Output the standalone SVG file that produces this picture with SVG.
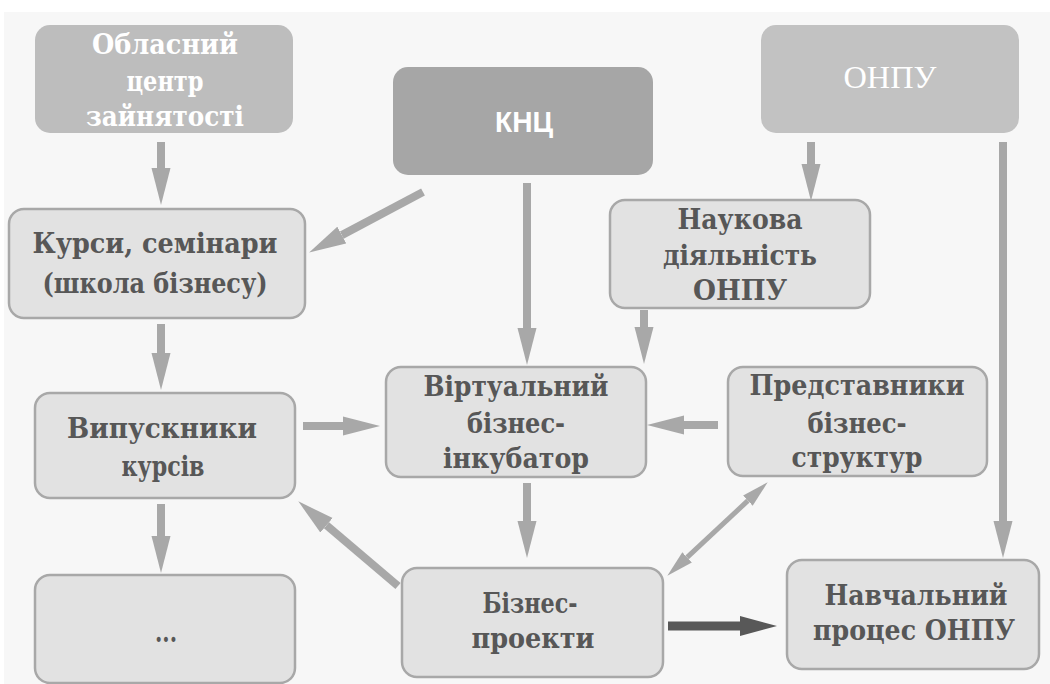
<svg xmlns="http://www.w3.org/2000/svg" width="1050" height="684" viewBox="0 0 1050 684">
<style>
.bg{fill:#f7f7f7}
.lb{fill:#e2e2e2;stroke:#a8a8a8;stroke-width:2.5}
.t{font-family:"DejaVu Serif","Liberation Serif",serif;font-weight:bold;font-size:27px;fill:#575757;text-anchor:middle}
.w{font-family:"DejaVu Serif","Liberation Serif",serif;font-weight:bold;font-size:27px;fill:#ffffff;text-anchor:middle}
.c{stroke:#a8a8a8;stroke-width:8;fill:none}
.cd{stroke:#585858;stroke-width:9;fill:none}
.cs{stroke:#a8a8a8;stroke-width:5;fill:none}
</style>
<defs>
<marker id="ah" markerUnits="userSpaceOnUse" markerWidth="38" markerHeight="20" refX="0" refY="10" orient="auto" viewBox="0 0 38 20">
<path d="M0,0.5 L37,10 L0,19.5 Z" fill="#a8a8a8"/>
</marker>
<marker id="ahd" markerUnits="userSpaceOnUse" markerWidth="38" markerHeight="22" refX="0" refY="11" orient="auto" viewBox="0 0 38 22">
<path d="M0,1 L37,11 L0,21 Z" fill="#585858"/>
</marker>
<marker id="ahs" markerUnits="userSpaceOnUse" markerWidth="28" markerHeight="16" refX="0" refY="8" orient="auto-start-reverse" viewBox="0 0 28 16">
<path d="M0,1 L27,8 L0,15 Z" fill="#a8a8a8"/>
</marker>
</defs>
<rect x="0" y="0" width="1050" height="684" fill="#ffffff"/>
<rect class="bg" x="4" y="12" width="1046" height="672"/>

<g id="connectors">
<line class="c" x1="161" y1="142" x2="161" y2="168" marker-end="url(#ah)"/>
<line class="c" x1="161" y1="324" x2="161" y2="353" marker-end="url(#ah)"/>
<line class="c" x1="161" y1="504" x2="161" y2="536" marker-end="url(#ah)"/>
<line class="c" x1="423" y1="192" x2="341.8" y2="235.1" marker-end="url(#ah)"/>
<line class="c" x1="527" y1="183" x2="527" y2="328" marker-end="url(#ah)"/>
<line class="c" x1="811" y1="142" x2="811" y2="164" marker-end="url(#ah)"/>
<line class="c" x1="1003" y1="142" x2="1003" y2="521" marker-end="url(#ah)"/>
<line class="c" x1="644" y1="310" x2="644" y2="327" marker-end="url(#ah)"/>
<line class="c" x1="303" y1="426" x2="343" y2="426" marker-end="url(#ah)"/>
<line class="c" x1="718" y1="425" x2="684" y2="425" marker-end="url(#ah)"/>
<line class="c" x1="527" y1="483" x2="527" y2="521" marker-end="url(#ah)"/>
<line class="c" x1="398" y1="586" x2="326.5" y2="525.3" marker-end="url(#ah)"/>
<line class="cs" x1="687.1" y1="557.3" x2="747.9" y2="500.7" marker-start="url(#ahs)" marker-end="url(#ahs)"/>
<line class="cd" x1="668" y1="626" x2="740" y2="626" marker-end="url(#ahd)"/>
</g>

<g id="n-oblasnyi">
<rect x="35" y="25" width="258" height="108" rx="15" fill="#bdbdbd"/>
<text class="w" x="165" y="54" textLength="146" lengthAdjust="spacingAndGlyphs">Обласний</text>
<text class="w" x="165" y="91" textLength="77" lengthAdjust="spacingAndGlyphs">центр</text>
<text class="w" x="165" y="126" textLength="158" lengthAdjust="spacingAndGlyphs">зайнятості</text>
</g>

<g id="n-knc">
<rect x="393" y="67" width="260" height="108" rx="15" fill="#a6a6a6"/>
<text x="524" y="132" font-family="'Liberation Sans',Arial,sans-serif" font-weight="bold" font-size="30" fill="#ffffff" text-anchor="middle" textLength="58" lengthAdjust="spacingAndGlyphs">КНЦ</text>
</g>

<g id="n-onpu">
<rect x="761" y="25" width="258" height="108" rx="15" fill="#c2c2c2"/>
<text x="890" y="88" font-family="'Liberation Serif','Times New Roman',serif" font-size="32" fill="#ffffff" text-anchor="middle" textLength="93" lengthAdjust="spacingAndGlyphs">ОНПУ</text>
</g>

<g id="n-kursy">
<rect class="lb" x="9" y="209" width="296" height="109" rx="15"/>
<text class="t" x="155" y="253" textLength="245" lengthAdjust="spacingAndGlyphs">Курси, семінари</text>
<text class="t" x="155" y="293" textLength="225" lengthAdjust="spacingAndGlyphs">(школа бізнесу)</text>
</g>

<g id="n-naukova">
<rect class="lb" x="610" y="200" width="260" height="108" rx="15"/>
<text class="t" x="740" y="229" textLength="125" lengthAdjust="spacingAndGlyphs">Наукова</text>
<text class="t" x="740" y="265" textLength="154" lengthAdjust="spacingAndGlyphs">діяльність</text>
<text class="t" x="740" y="300" textLength="94" lengthAdjust="spacingAndGlyphs">ОНПУ</text>
</g>

<g id="n-vypusknyky">
<rect class="lb" x="35" y="393" width="260" height="105" rx="15"/>
<text class="t" x="162" y="438" textLength="190" lengthAdjust="spacingAndGlyphs">Випускники</text>
<text class="t" x="163" y="476" textLength="83" lengthAdjust="spacingAndGlyphs">курсів</text>
</g>

<g id="n-virtualnyi">
<rect class="lb" x="386" y="367" width="260" height="110" rx="15"/>
<text class="t" x="516" y="396" textLength="185" lengthAdjust="spacingAndGlyphs">Віртуальний</text>
<text class="t" x="516" y="433" textLength="98" lengthAdjust="spacingAndGlyphs">бізнес-</text>
<text class="t" x="516" y="468" textLength="146" lengthAdjust="spacingAndGlyphs">інкубатор</text>
</g>

<g id="n-predstavnyky">
<rect class="lb" x="728" y="367" width="259" height="109" rx="15"/>
<text class="t" x="857" y="395" textLength="215" lengthAdjust="spacingAndGlyphs">Представники</text>
<text class="t" x="857" y="433" textLength="99" lengthAdjust="spacingAndGlyphs">бізнес-</text>
<text class="t" x="857" y="467" textLength="131" lengthAdjust="spacingAndGlyphs">структур</text>
</g>

<g id="n-dots">
<rect class="lb" x="35" y="575" width="260" height="108" rx="15"/>
<text class="t" x="166" y="642" font-size="20" textLength="22" lengthAdjust="spacingAndGlyphs">...</text>
</g>

<g id="n-biznes-proekty">
<rect class="lb" x="402" y="568" width="261" height="109" rx="15"/>
<text class="t" x="530" y="613" textLength="95" lengthAdjust="spacingAndGlyphs">Бізнес-</text>
<text class="t" x="533" y="648" textLength="123" lengthAdjust="spacingAndGlyphs">проекти</text>
</g>

<g id="n-navchalnyi">
<rect class="lb" x="787" y="560" width="252" height="109" rx="15"/>
<text class="t" x="916" y="605" textLength="183" lengthAdjust="spacingAndGlyphs">Навчальний</text>
<text class="t" x="914" y="640" textLength="202" lengthAdjust="spacingAndGlyphs">процес ОНПУ</text>
</g>
</svg>
